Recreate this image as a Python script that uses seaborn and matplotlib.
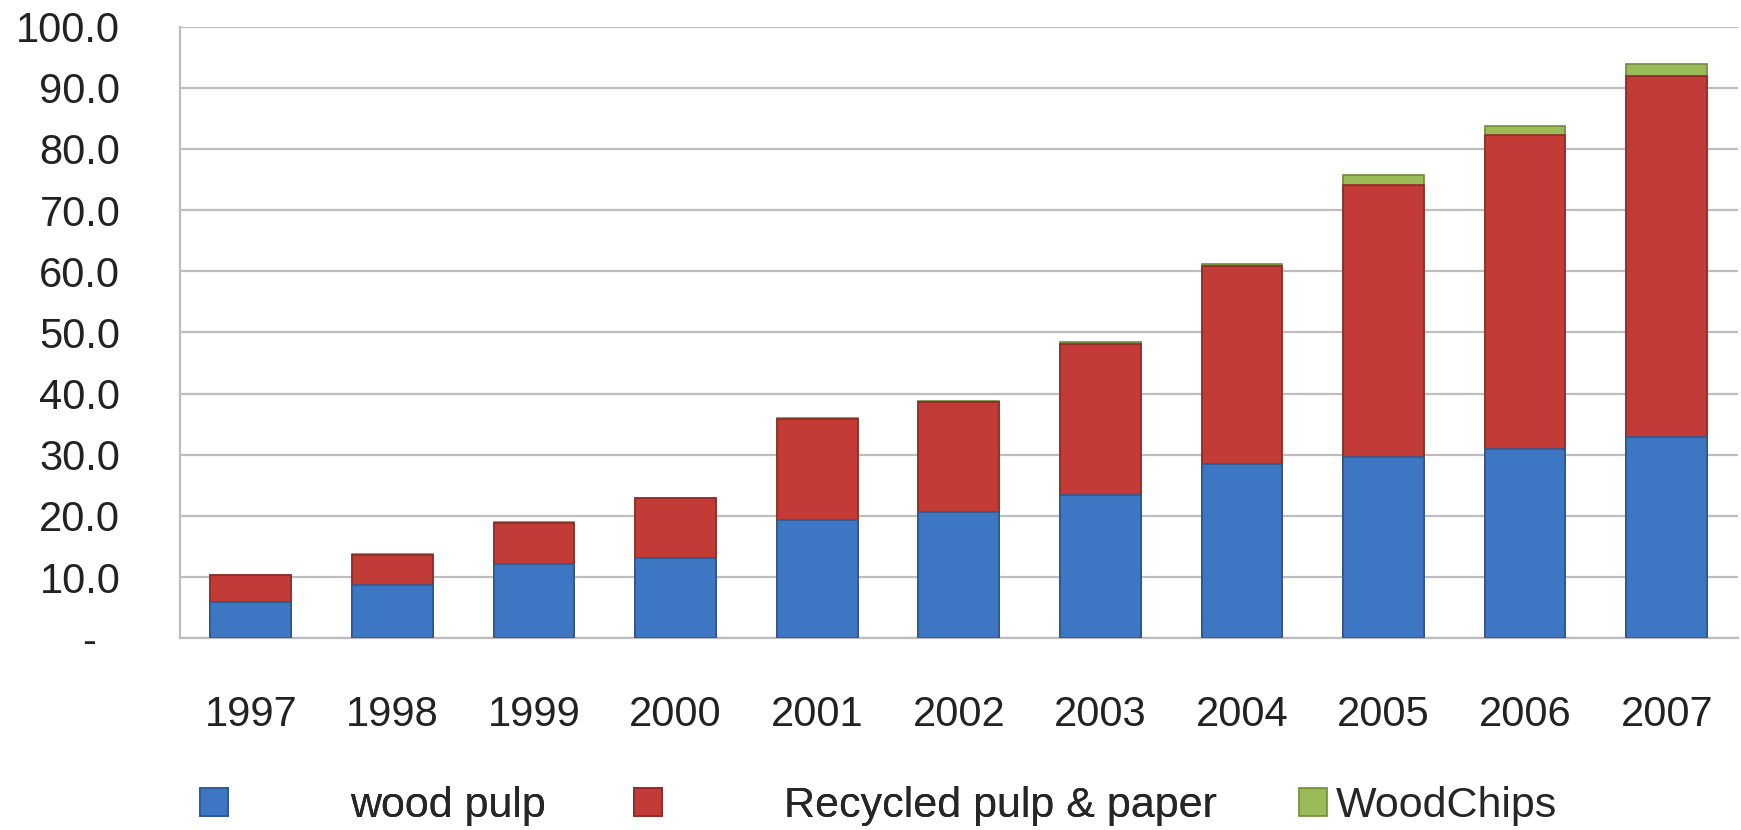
import matplotlib

matplotlib.use("Agg")

import matplotlib.pyplot as plt
import pandas as pd
import seaborn as sns
from matplotlib.ticker import FuncFormatter, MultipleLocator

sns.set_theme(style="white")

# ── data ──────────────────────────────────────────────────────────────────────
years = ["1997", "1998", "1999", "2000", "2001", "2002",
         "2003", "2004", "2005", "2006", "2007"]
wood_pulp = [6.0, 8.7, 12.2, 13.1, 19.3, 20.7, 23.5, 28.5, 29.6, 31.0, 32.9]
recycled = [4.3, 4.9, 6.7, 9.8, 16.6, 17.9, 24.6, 32.3, 44.5, 51.2, 59.0]
wood_chips = [0.1, 0.1, 0.1, 0.1, 0.1, 0.2, 0.4, 0.4, 1.6, 1.5, 2.0]

labels = ["wood pulp", "Recycled pulp & paper", "WoodChips"]
colors = ["#3d77c4", "#c33b37", "#9bbb59"]
edges = ["#2b5890", "#8e2a27", "#6f8a3a"]

df = pd.DataFrame(
    {"year": years, "wood": wood_pulp, "recycled": recycled, "chips": wood_chips}
)
# cumulative tops so the bars stack when drawn largest first
df["top_wood"] = df["wood"]
df["top_recycled"] = df["wood"] + df["recycled"]
df["top_chips"] = df["top_recycled"] + df["chips"]

FONT = ["Liberation Sans", "DejaVu Sans"]

fig = plt.figure(figsize=(17.41, 8.30), dpi=100)
ax = fig.add_axes([0.1034, 0.231, 0.8946, 0.737])

for col, color, edge, label in zip(
    ["top_chips", "top_recycled", "top_wood"], colors[::-1], edges[::-1], labels[::-1]
):
    sns.barplot(
        df, x="year", y=col, color=color, width=0.57, edgecolor=edge,
        linewidth=1.2, saturation=1, ax=ax, label=label, zorder=3,
    )

ax.set_xlim(-0.5, 10.5)
ax.set_ylim(0, 100)
ax.yaxis.set_major_locator(MultipleLocator(10))
ax.yaxis.set_major_formatter(
    FuncFormatter(lambda v, _: "-  " if abs(v) < 1e-9 else f"{v:.1f}")
)
ax.grid(axis="y", color="#bdbdbd", linewidth=1.6, zorder=0)
ax.set_axisbelow(True)
for side in ["top", "right"]:
    ax.spines[side].set_visible(False)
for side in ["left", "bottom"]:
    ax.spines[side].set_color("#bdbdbd")
    ax.spines[side].set_linewidth(1.6)
ax.set_xlabel("")
ax.set_ylabel("")
ax.tick_params(axis="y", length=0, pad=43, labelsize=30, labelcolor="#222222")
ax.tick_params(axis="x", length=0, pad=41, labelsize=30, labelcolor="#222222")
for t in ax.get_yticklabels() + ax.get_xticklabels():
    t.set_fontfamily(FONT)

# ── legend (Excel-style spacing) ──────────────────────────────────────────────
legend_handles = {c.get_label(): c.patches[0] for c in ax.containers}
if ax.legend_:
    ax.legend_.remove()

font = {"family": FONT, "size": 31}
leg1 = fig.legend(
    [legend_handles[labels[0]], legend_handles[labels[1]]], labels[:2],
    loc="center left", bbox_to_anchor=(200 / 1741, 1 - 806 / 830), ncol=2,
    frameon=False, borderpad=0, borderaxespad=0, handlelength=0.65,
    handleheight=0.65, handletextpad=2.84, columnspacing=2.04, prop=font,
)
fig.legend(
    [legend_handles[labels[2]]], labels[2:],
    loc="center left", bbox_to_anchor=(1299 / 1741, 1 - 806 / 830),
    frameon=False, borderpad=0, borderaxespad=0, handlelength=0.65,
    handleheight=0.65, handletextpad=0.2, prop=font,
)
fig.add_artist(leg1)

fig.savefig("out.png", dpi=100)
plt.close(fig)
